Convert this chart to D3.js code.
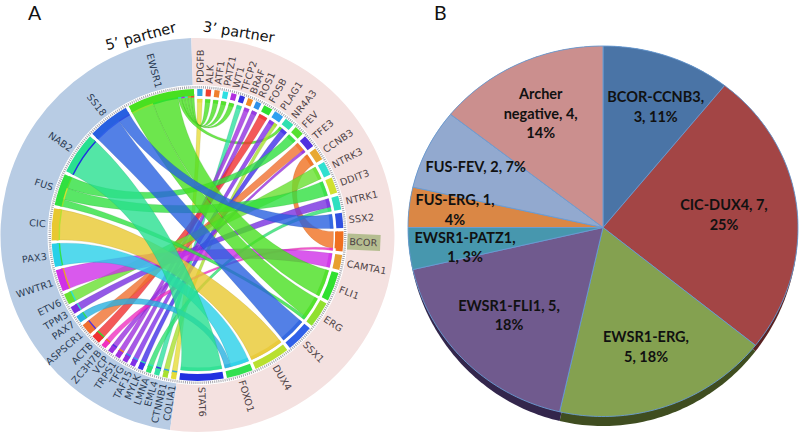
<!DOCTYPE html>
<html><head><meta charset="utf-8">
<script src="https://cdn.jsdelivr.net/npm/d3@7"></script>
<style>html,body{margin:0;padding:0;background:#fff}svg{display:block}</style>
</head><body><svg id="c" width="800" height="435"></svg>
<script>
// ---------- Data: panel A ----------
const geneNames = ["PDGFB","ALK","ATF1","PATZ1","WT1","TFCP2","BRAF","ROS1","FOSB","PLAG1","NR4A3","FEV","TFE3","CCNB3","NTRK3","DDIT3","NTRK1","SSX2","BCOR","CAMTA1","FLI1","ERG","SSX1","DUX4","FOXO1","STAT6",
  "COLIA1","CTNNB1","EML4","LMNA","MYLK","TAF15","TFG","TRPS1","VCP","ZC3H7B","ACTB","ASPSCR1","PAX7","TPM3","ETV6","WWTR1","PAX3","CIC","FUS","NAB2","SS18","EWSR1"];
const geneSpans = [2.1,2.1,2.1,2.1,2.1,2.1,2.1,2.2,3.6,3.8,3.8,3.8,5,5,5.5,6.3,5.5,6,8,6,11.5,10.5,11,14.5,10.5,17.5,
  2.1,2.1,2.1,2.1,2.1,2.1,2.1,2.1,2.1,2.1,3.6,4.5,2.9,3,4.4,8.7,9.2,12.7,12.7,16.7,16.7,26.7];
const geneColors = ["#2ea6e2","#ef4030","#f0802e","#2fdfe2","#b02fe0","#3232e0","#f08a24","#2f90e8","#2fe030","#2fa0f0","#2fe0b0","#55e030","#5030e0","#e8a830","#2fe0d0","#d0e030","#2fe0c0","#3050e0","#f07020","#e8a030","#30e030","#90e030","#3060e8","#b8e030","#30e050","#2030e0",
  "#e6dc38","#a8e030","#30e0a0","#30e070","#4030e8","#8030e8","#9030e0","#a030e0","#9830e0","#f030c0","#f03030","#f07030","#28b0e0","#7830e0","#68e030","#d030e8","#28d0e8","#e8c830","#30e040","#28e090","#2860e0","#48e020"];
const linkSource = ["COLIA1","EWSR1","EWSR1","EWSR1","EWSR1","EWSR1","EML4","TRPS1","TFG","ACTB","CTNNB1","TAF15","MYLK","ASPSCR1","VCP","BCOR","ZC3H7B","ETV6","TPM3","LMNA","WWTR1","FUS","FUS","FUS","EWSR1","EWSR1","PAX7","PAX3","CIC","SS18","SS18","NAB2"];
const linkTarget = ["PDGFB","ALK","ATF1","PATZ1","WT1","NR4A3","TFCP2","BRAF","ROS1","FOSB","PLAG1","PLAG1","NR4A3","TFE3","TFE3","CCNB3","BCOR","NTRK3","NTRK1","NTRK1","CAMTA1","FEV","DDIT3","ERG","FLI1","ERG","FOXO1","FOXO1","DUX4","SSX2","SSX1","STAT6"];
const linkSourceWeight = [2.1,1.3,1.3,1.3,1.3,1.3,2.1,2.1,2.1,3.6,2.1,2.1,2.1,4.5,2.1,7,2.1,4.4,3,2.1,8.7,4.6,4.6,2.8,10.4,9.2,2.9,9.2,12.7,5.2,11.5,16.7];
const linkTargetWeight = [2.1,2.1,2.1,2.1,2.1,1.2,2.1,2.1,2.2,3.6,1.6,2.2,2.6,3.8,1.2,5,1,5.5,3.8,1.7,6,3.8,6.3,1.4,11.5,9.1,2.6,7.9,14.5,6,11,17.5];

// ---------- Data: panel B ----------
const pieCategories = ["BCOR-CCNB3","CIC-DUX4","EWSR1-ERG","EWSR1-FLI1","EWSR1-PATZ1","FUS-ERG","FUS-FEV","Archer negative"];
const pieCounts = [3,7,5,5,1,1,2,4];
const piePercents = ["11%","25%","18%","18%","3%","4%","7%","14%"];
const pieColors = ["#4a74a6","#a34545","#84a150","#705a8e","#4797ae","#da8745","#92a9cf","#cb8f8e"];
const pieRimColors = ["#2c4566","#5a2222","#3f4d20","#33264c","#255766","#7a4a22","#55627a","#7a5454"];

const svg = d3.select("#c");
const deg = Math.PI / 180;

// ---------- Panel A ----------
const cx = 197.5, cy = 235;
const A = svg.append("g").attr("transform", `translate(${cx},${cy})`);
const R = {disc:197, discIn:150, tickOut:149, tickIn:146.5, bandOut:146, bandIn:139, tab5Out:140.6, tab5In:137.6, chord5:141, chord3:136, tab3In:132.6, label:152};

const arcGen = d3.arc();
A.append("path").attr("fill", "#b8cce4").attr("d", arcGen({innerRadius:R.discIn, outerRadius:R.disc, startAngle:188*deg, endAngle:358.2*deg}));
A.append("path").attr("fill", "#f4e1e0").attr("d", arcGen({innerRadius:R.discIn, outerRadius:R.disc, startAngle:-1.8*deg, endAngle:188*deg}));

const GAP = 1.3;
let pos = 0;
const genes = geneNames.map((name,i)=>{
  const g = {name, index:i, color:geneColors[i], start:pos, end:pos+geneSpans[i], links:[]};
  pos = g.end + GAP;
  return g;
});
const angle = d3.scaleLinear().domain([0,pos]).range([-0.1,359.9]);
const byName = new Map(genes.map(g=>[g.name,g]));
genes.forEach(g=>{g.a0=angle(g.start); g.a1=angle(g.end); g.mid=(g.a0+g.a1)/2;});

const links = linkSource.map((s,i)=>({source:byName.get(s), target:byName.get(linkTarget[i]), sw:linkSourceWeight[i], tw:linkTargetWeight[i]}));
links.forEach(l=>{
  l.source.links.push({link:l, end:"s", partner:l.target, weight:l.sw});
  l.target.links.push({link:l, end:"t", partner:l.source, weight:l.tw});
});
genes.forEach(g=>{
  const cw = p => ((p.mid - g.mid) % 360 + 360) % 360;
  g.links.sort((a,b)=>cw(b.partner)-cw(a.partner));
  const total = d3.sum(g.links,d=>d.weight);
  const fit = d3.scaleLinear().domain([0,total]).range([g.a0,g.a1]);
  let c = 0;
  g.links.forEach(d=>{
    d.link[d.end+"a0"] = fit(c); c += d.weight; d.link[d.end+"a1"] = fit(c);
  });
});

const pt = (r,a)=>[r*Math.sin(a*deg), -r*Math.cos(a*deg)];
// cubic ribbon edges leave the ring radially; the handle radius shrinks with the angular separation
const handleRadius = d3.scaleLinear().domain([40,90]).range([100,62]).clamp(true);
function edge(p,a,ra,b,rb){
  let diff = Math.abs(((b-a)%360+360)%360);
  if(diff>180) diff = 360-diff;
  const h = handleRadius(diff);
  const c1 = pt(h,a), c2 = pt(h,b), e = pt(rb,b);
  p.bezierCurveTo(c1[0],c1[1],c2[0],c2[1],e[0],e[1]);
}
const is5 = g => g.index >= 26;
const chordR = g => (is5(g) ? R.chord5 : R.chord3);
function ribbon(l){
  const p = d3.path();
  const rs = chordR(l.source), rt = chordR(l.target);
  p.moveTo(...pt(rs,l.sa0));
  p.arc(0,0,rs,(l.sa0-90)*deg,(l.sa1-90)*deg);
  edge(p,l.sa1,rs,l.ta0,rt);
  p.arc(0,0,rt,(l.ta0-90)*deg,(l.ta1-90)*deg);
  edge(p,l.ta1,rt,l.sa0,rs);
  p.closePath();
  return p.toString();
}
A.append("g").selectAll("path").data(links).join("path")
  .attr("d",ribbon).attr("fill",d=>d.source.color).attr("fill-opacity",.8)
  .attr("stroke",d=>d3.color(d.source.color).darker(1.2)).attr("stroke-opacity",.35).attr("stroke-width",.5);

// partner-coloured tabs on the 5' side, dark strips on the 3' side
A.append("g").selectAll("path").data(links).join("path")
  .attr("fill",d=>is5(d.source)?d.target.color:d.source.color)
  .attr("d",d=>arcGen({innerRadius:R.tab5In,outerRadius:R.tab5Out,startAngle:d.sa0*deg,endAngle:d.sa1*deg}));
A.append("g").selectAll("path").data(links).join("path")
  .attr("fill",d=>d.source.color).attr("fill-opacity",.7)
  .attr("d",d=>arcGen({innerRadius:R.tab3In,outerRadius:R.chord3,startAngle:d.ta0*deg,endAngle:d.ta1*deg}));

A.append("g").selectAll("path").data(genes).join("path")
  .attr("fill",d=>d.color)
  .attr("d",d=>arcGen({innerRadius:R.bandIn,outerRadius:R.bandOut,startAngle:d.a0*deg,endAngle:d.a1*deg}));

A.append("circle").attr("r",(R.tickOut+R.tickIn)/2).attr("fill","none").attr("stroke","#a6a6ae")
  .attr("stroke-width",R.tickOut-R.tickIn).attr("stroke-dasharray","1 1.1");

const lab = A.append("g").attr("font-family","'DejaVu Sans'").attr("font-size",9.6).attr("letter-spacing",.2);
const labels = lab.selectAll("g").data(genes).join("g")
  .attr("transform",d=>{
    const right = d.mid < 180;
    return `rotate(${right ? d.mid-90 : d.mid+90}) translate(${right ? R.label : -R.label},0)`;
  });
labels.filter(d=>d.name==="BCOR").append("rect").attr("x",-2).attr("y",-8).attr("width",33).attr("height",16).attr("fill","#b5bd90");
labels.append("text").attr("dy","0.35em").attr("text-anchor",d=>d.mid<180?"start":"end")
  .attr("fill",d=>is5(d)?"#2c3c54":"#4f4346").text(d=>d.name);

svg.append("text").attr("transform","translate(142,41) rotate(-15)").attr("text-anchor","middle")
  .attr("font-family","'DejaVu Sans'").attr("font-size",14.5).attr("fill","#111").text("5’ partner");
svg.append("text").attr("transform","translate(238,37) rotate(9)").attr("text-anchor","middle")
  .attr("font-family","'DejaVu Sans'").attr("font-size",14.5).attr("fill","#111").text("3’ partner");
svg.append("text").attr("x",28).attr("y",19.5).attr("font-family","Lato").attr("font-size",19.5).attr("fill","#111").text("A");
svg.append("text").attr("x",434).attr("y",19.5).attr("font-family","Lato").attr("font-size",19.5).attr("fill","#111").text("B");

// ---------- Panel B ----------
const pcx = 603, pcy = 227.5, rx = 195, ryTop = 181.5, ryBottom = 189, ryRim = 198.5;
const P = svg.append("g").attr("transform",`translate(${pcx},${pcy})`);
const slices = d3.pie().sort(null).value(d=>d)(pieCounts);
const ring = d3.line();
function slicePath(s,ryDown){
  const n = Math.max(8,Math.ceil((s.endAngle-s.startAngle)/0.02));
  const pts = [[0,0]];
  d3.range(n+1).forEach(i=>{
    const t = s.startAngle+(s.endAngle-s.startAngle)*i/n;
    const c = Math.cos(t);
    pts.push([rx*Math.sin(t), -(c>0?ryTop:ryDown)*c]);
  });
  pts.push([0,0]);
  return ring(pts);
}
P.append("g").selectAll("path").data(slices).join("path")
  .attr("d",d=>slicePath(d,ryRim)).attr("fill",(d,i)=>pieRimColors[i]);
P.append("g").selectAll("path").data(slices).join("path")
  .attr("d",d=>slicePath(d,ryBottom)).attr("fill",(d,i)=>pieColors[i])
  .attr("stroke","#6a9cd4").attr("stroke-width",.9).attr("stroke-linejoin","round");

// label line breaks follow the reference; text is built from the data
const labelLayout = [
  {x:655.7,lines:[[102,c=>`${c[0]},`],[122,c=>`${c[1]}, ${c[2]}`]]},
  {x:724,lines:[[210,c=>`${c[0]}, ${c[1]},`],[230,c=>c[2]]]},
  {x:646,lines:[[342,c=>`${c[0]},`],[361.7,c=>`${c[1]}, ${c[2]}`]]},
  {x:509,lines:[[310.7,c=>`${c[0]}, ${c[1]},`],[330,c=>c[2]]]},
  {x:465,lines:[[243,c=>`${c[0]},`],[262,c=>`${c[1]}, ${c[2]}`]]},
  {x:455,lines:[[205,c=>`${c[0]}, ${c[1]},`],[225,c=>c[2]]]},
  {x:475.7,lines:[[172,c=>`${c[0]}, ${c[1]}, ${c[2]}`]]},
  {x:540.7,lines:[[99,c=>c[0].split(" ")[0]],[118.5,c=>`${c[0].split(" ")[1]}, ${c[1]},`],[138,c=>c[2]]]}
];
const T = svg.append("g").attr("font-family","Lato").attr("font-weight",700).attr("font-size",14.5).attr("fill","#111").attr("text-anchor","middle");
labelLayout.forEach((l,i)=>{
  const c = [pieCategories[i],pieCounts[i],piePercents[i]];
  l.lines.forEach(([y,f])=>T.append("text").attr("x",l.x).attr("y",y).text(f(c)));
});
</script></body></html>
